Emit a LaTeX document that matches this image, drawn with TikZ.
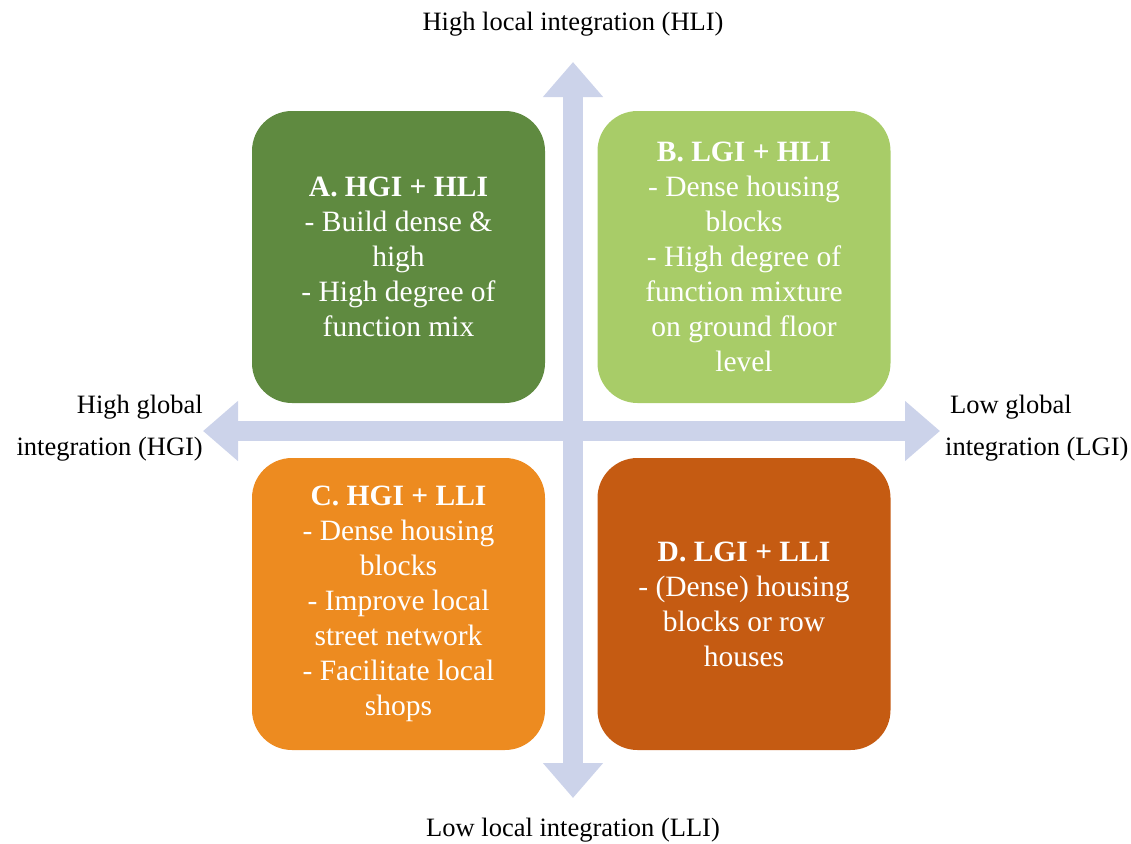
\documentclass[tikz,border=0pt]{standalone}
\usepackage{fontspec}
\setmainfont{Liberation Serif}
\usetikzlibrary{arrows.meta}
\definecolor{arrowc}{RGB}{204,211,234}
\definecolor{boxA}{RGB}{95,138,64}
\definecolor{boxB}{RGB}{168,204,104}
\definecolor{boxC}{RGB}{237,139,32}
\definecolor{boxD}{RGB}{197,91,18}
\tikzset{
  quad/.style={rounded corners=40pt, minimum width=293pt, minimum height=292pt,
    inner sep=0pt, text=white, align=center, font=\fontsize{29.5}{35}\selectfont},
  axislbl/.style={inner sep=0pt, font=\fontsize{26.5}{42}\selectfont, text=black},
  bigarrow/.style={draw=arrowc, line width=20pt,
    {Triangle[width=58pt,length=35pt]}-{Triangle[width=58pt,length=35pt]}}
}
\begin{document}
\begin{tikzpicture}[x=1pt,y=-1pt]
\useasboundingbox (0,0) rectangle (1131,843);
\coordinate (top) at (573,62);
\coordinate (bot) at (573,798);
\coordinate (lft) at (203,431);
\coordinate (rgt) at (940,431);
\draw[bigarrow] (bot) -- (top);
\draw[bigarrow] (lft) -- (rgt);
\node[quad, fill=boxA] (A) at (398.5,257) {\textbf{A. HGI + HLI}\\- Build dense \&\\high\\- High degree of\\function mix};
\node[quad, fill=boxB] (B) at (744,257) {\textbf{B. LGI + HLI}\\- Dense housing\\blocks\\- High degree of\\function mixture\\on ground floor\\level};
\node[quad, fill=boxC] (C) at (398.5,604) {\textbf{C. HGI + LLI}\\- Dense housing\\blocks\\- Improve local\\street network\\- Facilitate local\\shops};
\node[quad, fill=boxD] (D) at (744,604) {\textbf{D. LGI + LLI}\\- (Dense) housing\\blocks or row\\houses};
\node[axislbl] (hli) at (573,24) {High local integration (HLI)};
\node[axislbl] (lli) at (573,830) {Low local integration (LLI)};
\node[axislbl, align=right, anchor=east] (hgi) at (203,428) {High global\\integration (HGI)};
\node[axislbl, align=left, anchor=west] (lgi) at (945,428) {\hspace*{5pt}Low global\\integration (LGI)};
\end{tikzpicture}
\end{document}
